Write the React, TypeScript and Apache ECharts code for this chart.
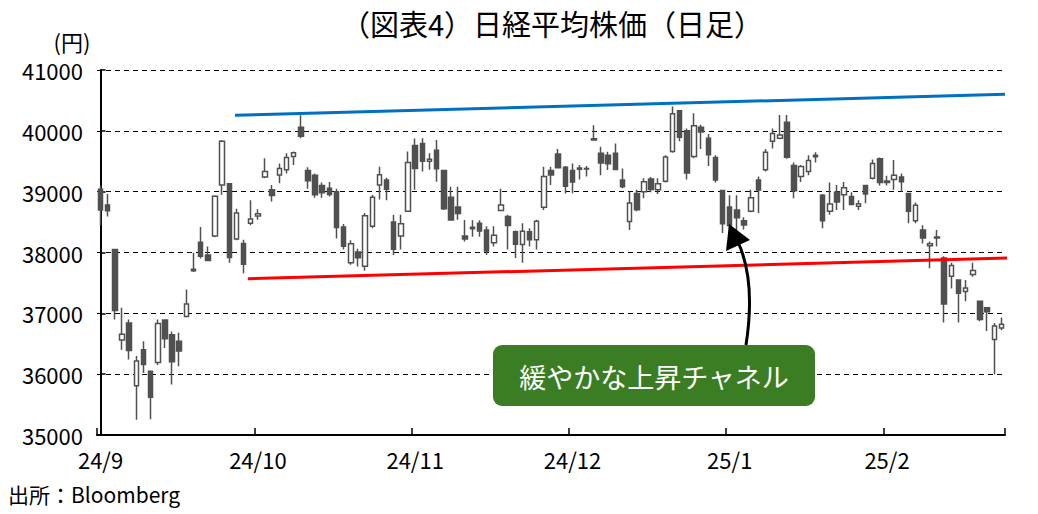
import React, { useEffect, useRef } from "react";
import * as echarts from "echarts";

// Trading days (category axis)
const dates = [
  "2024/9/2","2024/9/3","2024/9/4","2024/9/5","2024/9/6","2024/9/9","2024/9/10","2024/9/11","2024/9/12","2024/9/13",
  "2024/9/17","2024/9/18","2024/9/19","2024/9/20","2024/9/24","2024/9/25","2024/9/26","2024/9/27","2024/9/30",
  "2024/10/1","2024/10/2","2024/10/3","2024/10/4","2024/10/7","2024/10/8","2024/10/9","2024/10/10","2024/10/11",
  "2024/10/15","2024/10/16","2024/10/17","2024/10/18","2024/10/21","2024/10/22","2024/10/23","2024/10/24","2024/10/25",
  "2024/10/28","2024/10/29","2024/10/30","2024/10/31",
  "2024/11/1","2024/11/5","2024/11/6","2024/11/7","2024/11/8","2024/11/11","2024/11/12","2024/11/13","2024/11/14",
  "2024/11/15","2024/11/18","2024/11/19","2024/11/20","2024/11/21","2024/11/22","2024/11/25","2024/11/26","2024/11/27",
  "2024/11/28","2024/11/29",
  "2024/12/2","2024/12/3","2024/12/4","2024/12/5","2024/12/6","2024/12/9","2024/12/10","2024/12/11","2024/12/12",
  "2024/12/13","2024/12/16","2024/12/17","2024/12/18","2024/12/19","2024/12/20","2024/12/23","2024/12/24","2024/12/25",
  "2024/12/26","2024/12/27","2024/12/30",
  "2025/1/6","2025/1/7","2025/1/8","2025/1/9","2025/1/10","2025/1/14","2025/1/15","2025/1/16","2025/1/17","2025/1/20",
  "2025/1/21","2025/1/22","2025/1/23","2025/1/24","2025/1/27","2025/1/28","2025/1/29","2025/1/30","2025/1/31",
  "2025/2/3","2025/2/4","2025/2/5","2025/2/6","2025/2/7","2025/2/10","2025/2/12","2025/2/13","2025/2/14","2025/2/17",
  "2025/2/18","2025/2/19","2025/2/20","2025/2/21","2025/2/25","2025/2/26","2025/2/27","2025/2/28",
  "2025/3/3","2025/3/4","2025/3/5","2025/3/6","2025/3/7","2025/3/10","2025/3/11","2025/3/12",
];

const openP = [
  39040,38780,38050,36560,36840,35810,36400,36050,36190,36890,
  36650,36540,36950,37700,38170,37960,38270,39110,39130,
  38220,38150,38480,38600,39240,39030,39275,39360,39580,
  40060,39350,39270,39100,39055,39000,38420,37830,38010,
  37775,38430,39110,39190,
  38500,38270,38680,39760,39790,39500,39680,39350,38910,
  38750,38270,38390,38480,38370,38160,38690,38590,38340,
  38130,38340,
  38210,38744,39350,39620,39400,39350,39370,39380,39870,
  39630,39600,39630,39190,38510,38970,39000,39210,39030,
  39170,39660,40330,
  40000,39580,40060,39880,39560,39020,38750,38700,38520,38680,
  39190,39360,39830,39880,40140,39430,39250,39330,39600,
  38940,38680,38990,38950,38920,38760,39100,39220,39540,39150,
  39200,39240,38970,38520,38370,38110,38240,37910,
  37610,37550,37360,37640,37200,37090,36570,36760,
];
const highP = [
  39100,38960,38060,37090,36900,36300,36540,36060,36900,36900,
  36700,36680,37390,37990,38420,38100,38940,39850,39140,
  38720,38210,38860,38710,39550,39110,39465,39630,39660,
  40257,39400,39300,39150,39160,39050,38470,38200,38060,
  38650,38950,39410,39230,
  38620,38620,39660,39875,39880,39630,39850,39360,39080,
  39080,38536,38530,38530,38430,38430,39050,38620,38360,
  38480,38400,
  38540,39410,39410,39700,39420,39465,39440,39420,40090,
  39740,39655,39790,39380,39000,39030,39220,39240,39220,
  39600,40398,40340,
  40040,40290,40100,39950,39600,39030,38940,38940,38580,39030,
  39250,39700,40040,40260,40260,39480,39440,39600,39650,
  38960,39150,39110,39160,38990,38860,39110,39530,39560,39260,
  39520,39300,38980,38820,38450,38180,38370,37940,
  37830,37560,37550,37830,37210,37100,36840,36930,
];
const lowP = [
  38450,38590,36900,36400,36240,35250,36020,35260,36150,36430,
  35830,36130,36940,37680,37900,37860,38250,38950,37830,
  38200,37660,38450,38540,39220,38840,39140,39300,39440,
  39880,39050,38900,38900,38920,38230,38050,37800,37770,
  37700,38400,38870,38860,
  37960,38050,38670,39030,39330,39360,39165,38700,38520,
  38540,38180,38260,38260,37960,38100,38680,38050,37910,
  37830,38100,
  38050,38700,39110,39380,38970,38973,39200,39250,39840,
  39270,39355,39355,39055,38370,38680,38890,38990,38960,
  39150,39640,39830,
  39200,39550,39700,39420,39150,38320,38340,38350,38380,38660,
  38650,39330,39710,39860,39540,38890,39160,39270,39480,
  38400,38620,38700,38700,38780,38700,38810,39200,39100,39100,
  39030,39000,38480,38480,38150,37740,38100,36850,
  37410,36850,37200,37600,36870,36710,36000,36720,
];
const closeP = [
  38700,38686,37047,36657,36391,36215,36159,35619,36833,36581,
  36203,36380,37155,37723,37940,37870,38925,39829,37919,
  38651,37808,38552,38635,39332,38937,39380,39560,39640,
  39910,39180,38950,38981,38954,38411,38104,38143,37913,
  38605,38910,39277,39040,
  38053,38474,39480,39381,39500,39533,39376,38721,38535,
  38642,38220,38414,38352,38026,38283,38780,38442,38134,
  38349,38208,
  38513,39248,39276,39395,39091,39160,39390,39372,39849,
  39470,39457,39364,39082,38813,38701,39161,39036,39130,
  39568,40281,39894,
  39307,40083,39981,39605,39190,38474,38444,38572,38451,38902,
  39027,39646,39958,39931,39565,39016,39414,39513,39572,
  38520,38798,38831,39066,38787,38801,38963,39461,39149,39174,
  39270,39164,38678,38776,38237,38142,38256,37155,
  37785,37331,37418,37704,36900,37028,36793,36819,
];

// Trend lines: [category position, price]
const upperChannel = [[18.8, 40257], [126.5, 40601]];
const lowerChannel = [[20.6, 37569], [128.6, 37914]];

const yTicks = { min: 35000, max: 41000, step: 1000 };

const FONT = "'Noto Sans CJK JP', 'Noto Sans', sans-serif";

export default function App() {
  const ref = useRef<HTMLDivElement>(null);
  useEffect(() => {
    const chart = echarts.init(ref.current!, null, { renderer: "svg" });
    const candles = dates.map((_, i) => [openP[i], closeP[i], lowP[i], highP[i]]);
    chart.setOption({
      animation: false,
      backgroundColor: "#ffffff",
      textStyle: { fontFamily: FONT },
      grid: { left: 97, right: 33, top: 70, bottom: 79, containLabel: false },
      xAxis: [
        {
          type: "category",
          data: dates,
          boundaryGap: true,
          axisLine: { show: true, lineStyle: { color: "#000", width: 2 } },
          axisTick: { show: true, inside: true, length: 7, interval: 21, lineStyle: { color: "#000", width: 1.5 } },
          axisLabel: {
            interval: 21,
            color: "#000",
            fontSize: 22,
            margin: 13,
            fontFamily: FONT,
            formatter: (v: string) => {
              const p = v.split("/");
              return p[0].slice(2) + "/" + Number(p[1]);
            },
          },
          splitLine: { show: false },
        },
        { type: "value", min: -0.5, max: dates.length - 0.5, show: false },
      ],
      yAxis: {
        type: "value",
        min: yTicks.min,
        max: yTicks.max,
        interval: yTicks.step,
        axisLine: { show: true, lineStyle: { color: "#000", width: 2 } },
        axisTick: { show: true, inside: true, length: 5, lineStyle: { color: "#000", width: 1.5 } },
        axisLabel: { color: "#000", fontSize: 22, margin: 14, fontFamily: FONT, formatter: (v: number) => String(v) },
        splitLine: { show: true, lineStyle: { color: "#000", width: 1, type: [5, 4] } },
      },
      series: [
        {
          type: "candlestick",
          data: candles,
          barWidth: 5,
          itemStyle: {
            color: "#ffffff",
            color0: "#505050",
            borderColor: "#505050",
            borderColor0: "#505050",
            borderWidth: 1.5,
          },
          z: 3,
        },
        {
          type: "line",
          xAxisIndex: 1,
          data: upperChannel,
          symbol: "none",
          clip: false,
          silent: true,
          lineStyle: { color: "#0070C0", width: 3 },
          z: 5,
        },
        {
          type: "line",
          xAxisIndex: 1,
          data: lowerChannel,
          symbol: "none",
          clip: false,
          silent: true,
          lineStyle: { color: "#FF0000", width: 3 },
          z: 5,
        },
      ],
      graphic: [
        {
          type: "text",
          x: 552,
          y: 23,
          style: { text: "（図表4）日経平均株価（日足）", fontSize: 29, fontFamily: FONT, fill: "#000", align: "center", verticalAlign: "middle" },
        },
        {
          type: "text",
          x: 72,
          y: 41,
          style: { text: "(円)", fontSize: 22, fontFamily: FONT, fill: "#000", align: "center", verticalAlign: "middle" },
        },
        {
          type: "text",
          x: 8,
          y: 494,
          style: { text: "出所：Bloomberg", fontSize: 21, fontFamily: FONT, fill: "#000", align: "left", verticalAlign: "middle" },
        },
        {
          type: "rect",
          shape: { x: 493, y: 345, width: 322, height: 61, r: 9 },
          style: { fill: "#3b7d23" },
          z: 10,
        },
        {
          type: "text",
          x: 654,
          y: 376,
          style: { text: "緩やかな上昇チャネル", fontSize: 27, fontFamily: FONT, fill: "#ffffff", align: "center", verticalAlign: "middle" },
          z: 11,
        },
        {
          type: "bezierCurve",
          shape: { x1: 746, y1: 345, cpx1: 753, cpy1: 300, cpx2: 749, cpy2: 266, x2: 738, y2: 242 },
          style: { stroke: "#000", lineWidth: 3, fill: "none" },
          z: 10,
        },
        {
          type: "polygon",
          shape: { points: [[729, 224], [726, 251], [750, 240]] },
          style: { fill: "#000" },
          z: 10,
        },
      ],
    });
    return () => chart.dispose();
  }, []);
  return (
    <div
      ref={ref}
      style={{ position: "fixed", left: 0, top: 0, width: 1038, height: 514, background: "#fff" }}
    />
  );
}
